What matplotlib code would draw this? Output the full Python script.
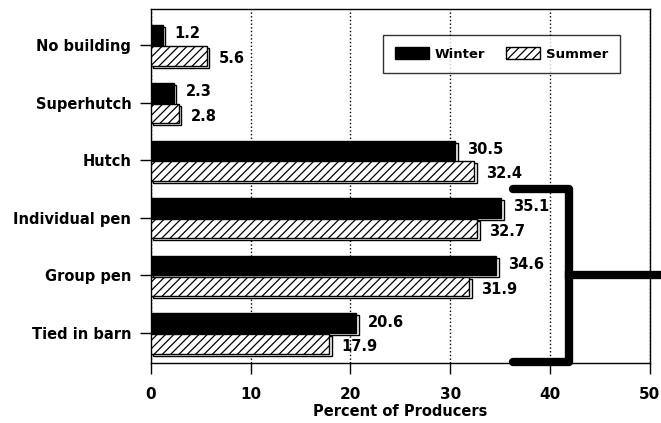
import numpy as np
import matplotlib
matplotlib.use("Agg")
import matplotlib.pyplot as plt
from matplotlib.patches import Patch

categories = ["No building", "Superhutch", "Hutch", "Individual pen", "Group pen", "Tied in barn"]
winter = [1.2, 2.3, 30.5, 35.1, 34.6, 20.6]
summer = [5.6, 2.8, 32.4, 32.7, 31.9, 17.9]

plt.rcParams['font.family'] = ['DejaVu Sans']
plt.rcParams['font.weight'] = 'bold'
plt.rcParams['hatch.linewidth'] = 0.9

fig = plt.figure(figsize=(6.61, 4.23), dpi=100)
ax = fig.add_axes([0.228, 0.142, 0.755, 0.837])

y = np.arange(len(categories))
h = 0.34
yw = y - h / 2
ys = y + h / 2 + 0.02

# drop shadows behind each bar
dx, dy = 0.25, 0.035
ax.barh(yw + dy, winter, height=h, left=dx, color='white', edgecolor='black', lw=1.0, zorder=2)
ax.barh(ys + dy, summer, height=h, left=dx, color='white', edgecolor='black', lw=1.0, zorder=2)

ax.barh(yw, winter, height=h, color='black', edgecolor='black', lw=1.0, zorder=3)
ax.barh(ys, summer, height=h, color='white', edgecolor='black', hatch='////', lw=1.0, zorder=3)

for i in range(len(categories)):
    ax.text(winter[i] + 1.2, yw[i] - 0.02, f"{winter[i]:.1f}", va='center', ha='left',
            fontsize=10.5, fontweight='bold', zorder=5)
    ax.text(summer[i] + 1.2, ys[i] + 0.05, f"{summer[i]:.1f}", va='center', ha='left',
            fontsize=10.5, fontweight='bold', zorder=5)

ax.set_xlim(0, 50)
ax.set_ylim(len(categories) - 0.48, -0.625)
ax.set_xticks([0, 10, 20, 30, 40, 50])
ax.set_yticks(y)
ax.set_yticklabels(categories, fontsize=10.5, fontweight='bold')
ax.tick_params(axis='both', direction='out', length=8, width=1, labelsize=10.5, pad=6)
ax.tick_params(axis='x', pad=9, labelsize=11)
for lab in ax.get_xticklabels():
    lab.set_fontweight('bold')
ax.grid(axis='x', linestyle=':', color='black', lw=1.0, zorder=1)
ax.set_axisbelow(True)
for s in ax.spines.values():
    s.set_linewidth(1.0)
ax.set_xlabel("Percent of Producers", fontsize=10.5, fontweight='bold', labelpad=2)

# bracket grouping the pen/barn categories
b_top = categories.index("Individual pen") - 0.5
b_bot = len(categories) - 0.5
b_mid = categories.index("Group pen")
ax.plot([36.3, 41.9, 41.9, 36.3], [b_top, b_top, b_bot, b_bot], color='black', lw=6,
        solid_capstyle='round', solid_joinstyle='round', clip_on=False, zorder=6)
ax.plot([41.9, 52], [b_mid, b_mid], color='black', lw=6, clip_on=False, zorder=6)

handles = [Patch(facecolor='black', edgecolor='black', label='Winter'),
           Patch(facecolor='white', edgecolor='black', hatch='////', label='Summer')]
leg = ax.legend(handles=handles, ncol=2, loc='upper right', bbox_to_anchor=(0.953, 0.945),
                frameon=True, fancybox=False, edgecolor='black',
                prop={'weight': 'bold', 'size': 9.5}, handlelength=2.6, handleheight=1.1,
                columnspacing=1.6, borderpad=0.9, handletextpad=0.4)
leg.get_frame().set_linewidth(1.0)

fig.savefig("out.png", dpi=100)
